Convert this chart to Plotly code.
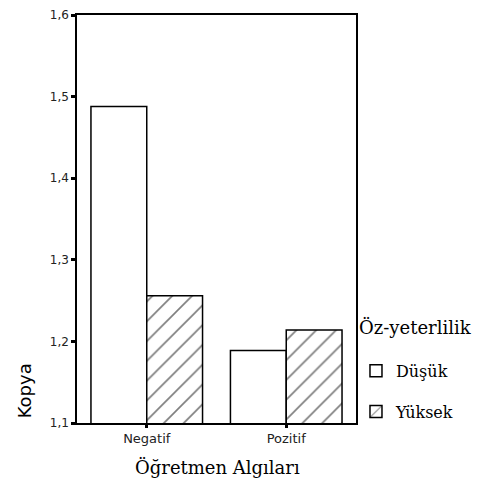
import plotly.graph_objects as go

categories = ["Negatif", "Pozitif"]
dusuk = [1.488, 1.189]
yuksek = [1.256, 1.214]
series_names = ["Düşük", "Yüksek"]
legend_title = "Öz-yeterlilik"
y_ticks = [1.1, 1.2, 1.3, 1.4, 1.5, 1.6]

fig = go.Figure()
fig.add_trace(go.Bar(
    x=categories, y=dusuk, name=series_names[0], legendgroup="a",
    marker=dict(color="white", line=dict(color="black", width=1.5)),
))
fig.add_trace(go.Bar(
    x=categories, y=yuksek, name=series_names[1], legendgroup="b",
    marker=dict(color="white", line=dict(color="black", width=1.5),
                pattern=dict(shape="/", fgcolor="black", bgcolor="white",
                             size=14, solidity=0.12)),
))

fig.update_layout(
    width=478, height=481,
    margin=dict(l=69, r=129, t=7, b=66),
    paper_bgcolor="white", plot_bgcolor="white",
    separators=",.",
    barmode="group", bargap=0.2, bargroupgap=0,
    showlegend=True,
    legend=dict(
        font=dict(family="DejaVu Serif", size=16, color="black"),
        xref="container", yref="container",
        x=0.728, xanchor="left", y=0.281, yanchor="top",
        tracegroupgap=17, traceorder="grouped",
        bgcolor="rgba(0,0,0,0)",
    ),
    xaxis=dict(
        range=[-0.5, 1.5], showline=True, linecolor="black", linewidth=1.5,
        mirror=True, ticks="outside", ticklen=3, tickwidth=3, tickcolor="black",
        tickfont=dict(family="DejaVu Sans", size=13, color="#222"),
        showgrid=False, zeroline=False, automargin=False,
    ),
    yaxis=dict(
        range=[1.1, 1.6], tickvals=y_ticks, tickformat=".1f",
        showline=True, linecolor="black", linewidth=1.5, mirror=True,
        ticks="outside", ticklen=4, tickwidth=3, tickcolor="black",
        tickfont=dict(family="DejaVu Sans", size=12, color="#222"),
        showgrid=False, zeroline=False, automargin=False,
    ),
    annotations=[
        dict(text="Kopya", xref="paper", yref="paper", x=-0.19, y=0.08,
             textangle=-90, showarrow=False, xanchor="center", yanchor="middle",
             font=dict(family="DejaVu Sans", size=18, color="black")),
        dict(text="Öğretmen Algıları", xref="paper", yref="paper", x=0.505, y=-0.108,
             showarrow=False, xanchor="center", yanchor="middle",
             font=dict(family="DejaVu Serif", size=18, color="black")),
        dict(text=legend_title, xref="paper", yref="paper", x=1.004, y=0.235,
             showarrow=False, xanchor="left", yanchor="middle",
             font=dict(family="DejaVu Serif", size=18, color="black")),
    ],
)

fig.write_html("out.html")
